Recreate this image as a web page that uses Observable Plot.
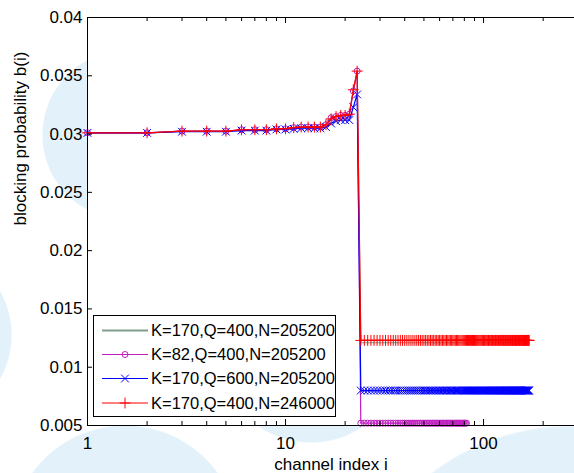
<!DOCTYPE html>
<html>
<head>
<meta charset="utf-8">
<script src="https://cdn.jsdelivr.net/npm/d3@7"></script>
<script src="https://cdn.jsdelivr.net/npm/@observablehq/plot@0.6"></script>
<style>
  html, body { margin: 0; padding: 0; }
  body {
    width: 574px; height: 473px; overflow: hidden; position: relative;
    background-color: #fff;
    background-image:
      radial-gradient(circle 85px at 127px 135px, #e3f2fa 99%, rgba(227,242,250,0) 100%),
      radial-gradient(circle 90px at -78px 335px, #e3f2fa 99%, rgba(227,242,250,0) 100%),
      radial-gradient(circle 115px at 125px 540px, #e3f2fa 99%, rgba(227,242,250,0) 100%),
      radial-gradient(circle 93px at 311px 350px, #e3f2fa 99%, rgba(227,242,250,0) 100%),
      radial-gradient(circle 228px at 570px 653px, #e3f2fa 99%, rgba(227,242,250,0) 100%);
    background-repeat: no-repeat;
    font-family: "Liberation Sans", Arial, sans-serif;
  }
  #chart { position: absolute; left: 0; top: 0; }
  #legend { position: absolute; left: 93px; top: 315px; width: 241px; height: 100px;
            border: 1.5px solid #000; background: #fff; }
</style>
</head>
<body>
<div id="chart"></div>
<div id="legend"></div>
<script>
// ---- data ----
const seriesNames = [
  "K=170,Q=400,N=205200",
  "K=82,Q=400,N=205200",
  "K=170,Q=600,N=205200",
  "K=170,Q=400,N=246000"
];
const seriesK = [170, 82, 170, 170];          // number of channels per series
const seriesColors = ["#7f9e8c", "#c01ec0", "#0000ff", "#ff0000"];
const seriesSymbols = [null, "circle", "times", "plus"];

// b(i) for channels i = 1..23 (before the drop)
const headGray    = [0.03011,0.03011,0.03025,0.03025,0.03025,0.03037,0.03037,0.03037,0.03045,0.03045,0.03055,0.0306,0.0306,0.0306,0.0306,0.0308,0.0314,0.0315,0.0316,0.0316,0.0317,0.0337,0.0353];
const headMagenta = [0.03011,0.03011,0.03025,0.03025,0.03025,0.03037,0.03037,0.03037,0.03045,0.03045,0.03055,0.0306,0.0306,0.0306,0.0306,0.0308,0.0314,0.0315,0.0316,0.0316,0.0317,0.0337,0.0354];
const headBlue    = [0.0301,0.0301,0.0302,0.0302,0.0302,0.0303,0.0303,0.0303,0.0304,0.0304,0.03045,0.0305,0.0305,0.0305,0.0305,0.0306,0.0309,0.0311,0.0312,0.0312,0.0312,0.0323,0.0334];
const headRed     = [0.03011,0.03011,0.03025,0.03025,0.03025,0.03037,0.03037,0.03037,0.03045,0.03045,0.03055,0.0306,0.0306,0.0306,0.0306,0.0308,0.0313,0.0315,0.0316,0.0316,0.0317,0.0338,0.0354];
// flat level of b(i) for channels i = 24..K
const tailGray = 0.0121, tailMagenta = 0.0052, tailBlue = 0.0080, tailRed = 0.0123;

const heads = [headGray, headMagenta, headBlue, headRed];
const tails = [tailGray, tailMagenta, tailBlue, tailRed];

const yTicks = [0.005, 0.01, 0.015, 0.02, 0.025, 0.03, 0.035, 0.04];
const yTickLabels = ["0.005", "0.01", "0.015", "0.02", "0.025", "0.03", "0.035", "0.04"];
const xMajor = [1, 10, 100];
const xMajorLabels = ["1", "10", "100"];
const xMinor = [2,3,4,5,6,7,8,9,20,30,40,50,60,70,80,90,200];

// ---- build table ----
const rows = [];
seriesNames.forEach((name, s) => {
  for (let i = 1; i <= seriesK[s]; i++) {
    rows.push({series: name, i, b: i <= heads[s].length ? heads[s][i - 1] : tails[s]});
  }
});

const W = 574, H = 473, mL = 87, mR = 0, mT = 17, mB = 48;
const fw = W - mL - mR, fh = H - mT - mB;

const marks = [
  Plot.frame({fill: "white", stroke: null}),
];
seriesNames.forEach((name, s) => {
  const d = rows.filter(r => r.series === name);
  marks.push(Plot.line(d, {x: "i", y: "b", stroke: seriesColors[s], strokeWidth: 1.2}));
  if (seriesSymbols[s]) {
    marks.push(Plot.dot(d, {x: "i", y: "b", symbol: () => seriesSymbols[s], stroke: seriesColors[s], fill: "none",
      r: seriesSymbols[s] === "circle" ? 3 : 3.6, strokeWidth: 1}));
  }
});
marks.push(
  // frame lines
  Plot.ruleX([1], {stroke: "black", strokeWidth: 1}),
  Plot.ruleY([0.005], {stroke: "black", strokeWidth: 1}),
  Plot.ruleY([0.04], {stroke: "black", strokeWidth: 1}),
  // inward ticks
  Plot.tickY(yTicks, {y: d => d, insetRight: fw - 5, stroke: "black"}),
  Plot.tickX(xMajor, {x: d => d, insetTop: fh - 6, stroke: "black"}),
  Plot.tickX(xMinor, {x: d => d, insetTop: fh - 4, stroke: "black"}),
  Plot.tickX(xMajor, {x: d => d, insetBottom: fh - 6, stroke: "black"}),
  Plot.tickX(xMinor, {x: d => d, insetBottom: fh - 4, stroke: "black"}),
  // tick labels
  Plot.axisY({ticks: yTicks, tickSize: 0, tickPadding: 5, label: null,
    tickFormat: d => yTickLabels[yTicks.indexOf(d)], fontSize: 17}),
  Plot.axisX({ticks: xMajor, tickSize: 0, tickPadding: 11, label: null,
    tickFormat: d => xMajorLabels[xMajor.indexOf(d)], fontSize: 17}),
  // axis titles
  Plot.text(["blocking probability b(i)"], {text: d => d, frameAnchor: "left", dx: -67, dy: 4, rotate: -90, fontSize: 17, fill: "black"}),
  Plot.text(["channel index i"], {text: d => d, frameAnchor: "bottom", dy: 44, fontSize: 17, fill: "black"})
);

const chart = Plot.plot({
  width: W, height: H,
  marginLeft: mL, marginRight: mR, marginTop: mT, marginBottom: mB,
  style: {background: "transparent", fontFamily: "Liberation Sans, Arial, sans-serif", fontSize: "17px", color: "black", overflow: "visible"},
  x: {type: "log", domain: [1, 288]},
  y: {domain: [0.005, 0.04]},
  marks
});
document.getElementById("chart").appendChild(chart);

// ---- legend ----
const lg = d3.select("#legend").append("svg").attr("width", 241).attr("height", 100);
const rowY = [14.5, 38.5, 62.5, 87];
seriesNames.forEach((name, s) => {
  const g = lg.append("g").attr("transform", `translate(0,${rowY[s]})`);
  g.append("line").attr("x1", 8).attr("x2", 54).attr("y1", 0).attr("y2", 0)
    .attr("stroke", seriesColors[s]).attr("stroke-width", s === 0 ? 1.8 : 1.2);
  if (seriesSymbols[s]) {
    const sym = {circle: d3.symbolCircle, times: d3.symbolTimes, plus: d3.symbolPlus}[seriesSymbols[s]];
    const r = seriesSymbols[s] === "circle" ? 3 : 3.6;
    g.append("path").attr("transform", "translate(31,0)")
      .attr("d", d3.symbol(sym, Math.PI * r * r)())
      .attr("fill", "none").attr("stroke", seriesColors[s]).attr("stroke-width", 1);
  }
  g.append("text").attr("x", 57).attr("y", 0).attr("dy", "0.36em")
    .attr("font-size", 16.5).attr("fill", "black").text(name);
});
</script>
</body>
</html>
